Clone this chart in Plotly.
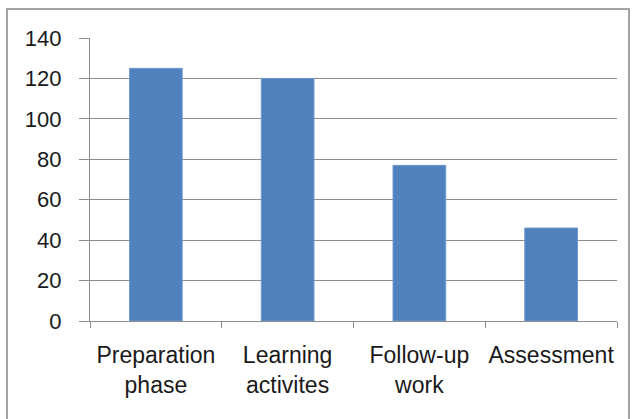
import plotly.graph_objects as go

categories = ["Preparation<br>phase", "Learning<br>activites", "Follow-up<br>work", "Assessment"]
values = [125, 120, 77, 46]
y_ticks = [0, 20, 40, 60, 80, 100, 120, 140]

fig = go.Figure(go.Bar(
    x=categories, y=values,
    marker=dict(color="#4F81BD", line=dict(color="#6F9AD0", width=1)),
    width=0.4,
))

fig.update_layout(
    width=636, height=419,
    margin=dict(l=90, r=19, t=38, b=98),
    paper_bgcolor="white", plot_bgcolor="white",
    font=dict(family="Liberation Sans, Arial", size=23, color="#1a1a1a"),
    showlegend=False,
    xaxis=dict(
        type="category", tickson="boundaries", ticks="outside", ticklen=6,
        tickcolor="#8c8c8c", tickwidth=1.3, showline=True, linecolor="#8c8c8c", linewidth=1.3,
        showgrid=False, range=[-0.5, 3.5], ticklabelstandoff=13,
        tickfont=dict(size=23), tickangle=0, automargin=False,
    ),
    yaxis=dict(
        range=[0, 140], tickvals=y_ticks, ticks="outside", ticklen=10,
        tickcolor="#8c8c8c", tickwidth=1.3, showline=True, linecolor="#8c8c8c", linewidth=1.3,
        showgrid=True, gridcolor="#8c8c8c", gridwidth=1.3, zeroline=False,
        ticklabelstandoff=13, tickfont=dict(size=22), automargin=False,
    ),
    shapes=[dict(type="rect", xref="paper", yref="paper",
                 x0=-0.1575, x1=1.0228, y0=-0.4, y1=1.1025,
                 line=dict(color="#868686", width=1.5))],
)

fig.write_html(
    "out.html",
    config={"displayModeBar": False},
    post_script="document.body.style.margin='0';document.body.style.overflow='hidden';",
)
